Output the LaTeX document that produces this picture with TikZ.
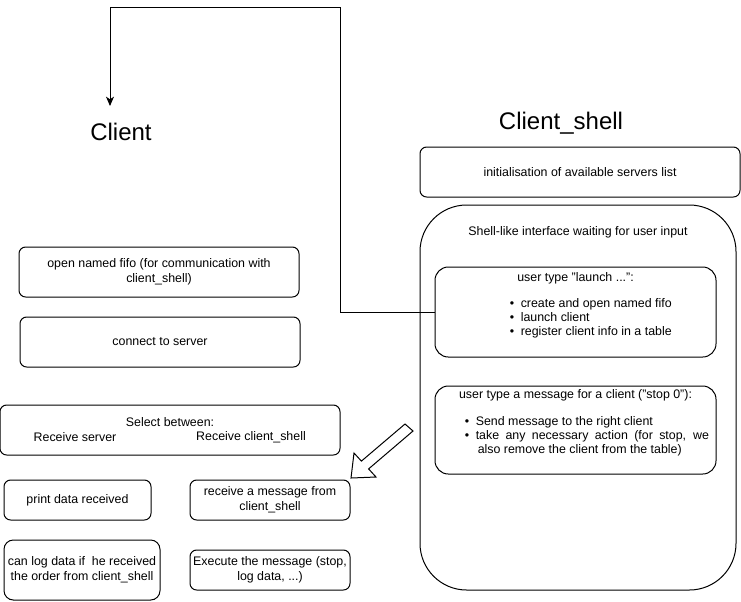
\documentclass[tikz,border=0pt]{standalone}
\usepackage{fontspec}
\setmainfont{Liberation Sans}
\usetikzlibrary{arrows.meta}
\newcommand{\bodyfont}{\fontsize{9.3}{11.25}\selectfont}
\begin{document}
\begin{tikzpicture}[x=0.75pt,y=-0.75pt,
  bx/.style 2 args={draw, line width=0.75pt, minimum width=#1*0.75pt, minimum height=#2*0.75pt, inner sep=0pt, align=center, font=\bodyfont},
  rs/.style={rounded corners=5pt},
  rm/.style={rounded corners=7pt},
  rl/.style={rounded corners=10pt},
  txt/.style={inner sep=0pt, align=center, font=\bodyfont},
  ln/.style={inner sep=0pt, anchor=west, text height=6.5pt, text depth=1.8pt, font=\bodyfont},
  title/.style={inner sep=0pt, font=\fontsize{18}{21}\selectfont},
  conn/.style={line width=0.75pt},
]
\useasboundingbox (0,0) rectangle (741,601);

% titles
\node[title] (tclient) at (121,132) {Client};
\node[title] (tshell) at (561,123) {Client\_shell};

% client_shell side
\node[bx={320}{50}, rs] (init) at (580,172) {initialisation of available servers list};
\node[bx={316}{385}, rounded corners=35pt] (shell) at (578,397.5) {};
\node[txt] (shelltxt) at (578,232) {Shell-like interface waiting for user input};

\node[bx={281}{90}, rl] (launch) at (575.5,312) {};
\node[txt] (launchtxt) at (575.5,278) {user type "launch ...":};
\node[ln] (lb1) at (509.5,304) {•\hspace{5pt}create and open named fifo};
\node[ln] (lb2) at (509.5,318) {•\hspace{5pt}launch client};
\node[ln] (lb3) at (509.5,332) {•\hspace{5pt}register client info in a table};

\node[bx={281}{88}, rl] (msg) at (575.5,430) {};
\node[txt] (msgtxt) at (575.5,395) {user type a message for a client ("stop 0"):};
\node[ln] (mb1) at (464.5,422.5) {•\hspace{5pt}Send message to the right client};
\node[ln] (mb2) at (464.5,436.5) {•\hspace{5pt}\makebox[175pt][s]{take any necessary action (for stop, we}};
\node[ln] (mb3) at (477.5,450.5) {also remove the client from the table)};

% client side
\node[bx={280}{50}, rs] (fifo) at (159,272) {open named fifo (for communication with\\client\_shell)};
\node[bx={280}{50}, rs] (connect) at (160,342) {connect to server};
\node[bx={340}{50}, rs] (select) at (170,430) {};
\node[txt] (seltxt) at (170,422) {Select between:};
\node[txt] (selA) at (75,437) {Receive server};
\node[txt] (selB) at (251,437) {Receive client\_shell};

\node[bx={147}{40}, rs] (print) at (77.5,500) {print data received};
\node[bx={160}{40}, rs] (recv) at (270,500) {receive a message from\\client\_shell};
\node[bx={156}{60}, rm] (canlog) at (82,570) {can log data if \ he received\\the order from client\_shell};
\node[bx={160}{40}, rs] (exec) at (270,570) {Execute the message (stop,\\log data, ...)};

% connector from launch to Client
\coordinate (corner) at (340,7);
\coordinate (arrowend) at (110,106);
\draw[conn, -{Stealth[length=7pt,width=6pt,inset=2pt]}] (launch.west) -| (corner) -| (arrowend);

% hollow block arrow
\draw[line width=0.75pt, fill=white, line join=miter]
  (351,478) -- (354,453) -- (361.4,461.1) -- (405,424) -- (413,431) -- (368.6,468.9) -- (376,477) -- cycle;
\end{tikzpicture}
\end{document}
